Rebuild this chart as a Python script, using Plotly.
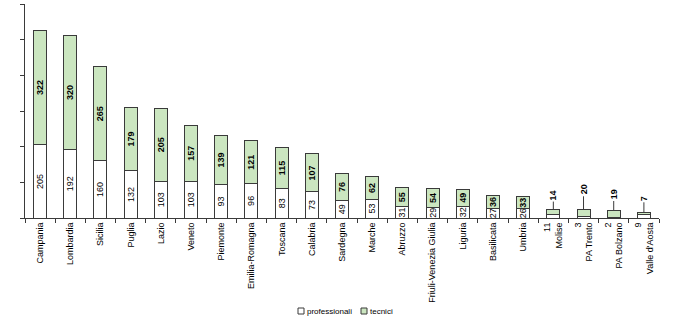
import plotly.graph_objects as go

regions = ["Campania", "Lombardia", "Sicilia", "Puglia", "Lazio", "Veneto", "Piemonte",
           "Emilia-Romagna", "Toscana", "Calabria", "Sardegna", "Marche", "Abruzzo",
           "Friuli-Venezia Giulia", "Liguria", "Basilicata", "Umbria", "Molise",
           "PA Trento", "PA Bolzano", "Valle d'Aosta"]
professionali = [205, 192, 160, 132, 103, 103, 93, 96, 83, 73, 49, 53, 31, 29, 32, 27, 26, 11, 3, 2, 9]
tecnici = [322, 320, 265, 179, 205, 157, 139, 121, 115, 107, 76, 62, 55, 54, 49, 36, 33, 14, 20, 19, 7]
series_names = ["professionali", "tecnici"]
# last categories: labels drawn outside the bars
n_inside = 17
leader_offsets = [-14, -20, -16, -14]

FONT = "Liberation Sans, Arial, sans-serif"
EDGE = "#3a3a3a"
GREEN = "#cbe6c0"
W, H = 700, 322
L, R, T, B = 25, 41, 4, 104

prof_text = [str(v) if i < n_inside else "" for i, v in enumerate(professionali)]
tec_text = [f"<b>{v}</b>" if i < n_inside else "" for i, v in enumerate(tecnici)]
ticktext = [r if i < n_inside else f"{professionali[i]}<br>{r}" for i, r in enumerate(regions)]

fig = go.Figure()
fig.add_trace(go.Bar(
    x=regions, y=professionali, name=series_names[0], showlegend=False,
    marker=dict(color="white", line=dict(color=EDGE, width=1)),
    text=prof_text, textposition="inside", insidetextanchor="middle",
    textangle=-90, constraintext="none",
    textfont=dict(family=FONT, size=9, color="black"),
))
fig.add_trace(go.Bar(
    x=regions, y=tecnici, name=series_names[1], showlegend=False,
    marker=dict(color=GREEN, line=dict(color=EDGE, width=1)),
    text=tec_text, textposition="inside", insidetextanchor="middle",
    textangle=-90, constraintext="none",
    textfont=dict(family=FONT, size=9, color="black"),
))

for k, i in enumerate(range(n_inside, len(regions))):
    fig.add_annotation(
        x=regions[i], y=professionali[i] + tecnici[i],
        text=f"<b>{tecnici[i]}</b>", textangle=-90,
        showarrow=True, arrowhead=0, arrowwidth=1, arrowcolor=EDGE,
        ax=0, ay=leader_offsets[k],
        font=dict(family=FONT, size=9, color="black"),
    )

# compact legend drawn in paper coordinates
pw, ph = W - L - R, H - T - B
def px(x):
    return (x - L) / pw
def py(y):
    return (H - B - y) / ph
for name, col, x0 in [(series_names[0], "white", 298), (series_names[1], GREEN, 361)]:
    fig.add_shape(type="rect", xref="paper", yref="paper",
                  x0=px(x0), x1=px(x0 + 6), y0=py(314), y1=py(308),
                  fillcolor=col, line=dict(color=EDGE, width=1))
    fig.add_annotation(xref="paper", yref="paper", x=px(x0 + 7), y=py(311),
                       xanchor="left", yanchor="middle", showarrow=False,
                       text=name, font=dict(family=FONT, size=8, color="black"))

fig.update_layout(
    width=W, height=H,
    margin=dict(l=L, r=R, t=T, b=B, autoexpand=False),
    barmode="stack", bargap=0.57,
    plot_bgcolor="white", paper_bgcolor="white",
    font=dict(family=FONT, size=9, color="black"),
    showlegend=False,
)
fig.update_xaxes(
    tickmode="array", tickvals=regions, ticktext=ticktext,
    tickangle=-90, tickson="boundaries", ticks="outside", ticklen=4,
    tickcolor=EDGE, showline=True, linecolor=EDGE, linewidth=1,
    showgrid=False, automargin=False,
    tickfont=dict(family=FONT, size=9),
)
fig.update_yaxes(
    range=[0, 600], dtick=100, tick0=0, showticklabels=False,
    ticks="outside", ticklen=4, tickcolor=EDGE,
    showline=True, linecolor=EDGE, linewidth=1, showgrid=False, zeroline=False,
)

fig.write_html("out.html")
